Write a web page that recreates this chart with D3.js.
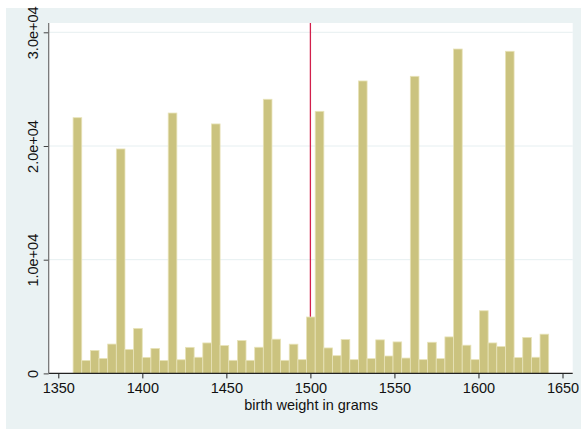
<!DOCTYPE html>
<html>
<head>
<meta charset="utf-8">
<script src="https://cdn.jsdelivr.net/npm/d3@7"></script>
<style>
  body { margin: 0; background: #fff; }
  svg { display: block; font-family: "Liberation Sans", Arial, sans-serif; }
</style>
</head>
<body>
<div id="chart"></div>
<script>
// histogram of birth weight, bins
const binStart = 1358.8;
const binWidth = 5.145;
const counts = [
  22490, 1140, 2020, 1320, 2580, 19740, 2110, 3960, 1410, 2200,
  1140, 22900, 1200, 2290, 1420, 2680, 21940, 2450, 1150, 2890,
  1150, 2300, 24110, 3010, 1150, 2570, 1210, 4960, 23050, 2240,
  1560, 2980, 1210, 25720, 1300, 2950, 1530, 2770, 1350, 26130,
  1210, 2740, 1300, 3210, 28530, 2480, 1210, 5510, 2680, 2360,
  28330, 1390, 3160, 1420, 3450
];
const xTicks = [1350, 1400, 1450, 1500, 1550, 1600, 1650];
const yTicks = [0, 10000, 20000, 30000];
const yTickLabels = ['0', '1.0e+04', '2.0e+04', '3.0e+04'];
const refLine = 1500;
const xTitle = 'birth weight in grams';

const width = 581, height = 429;
const plot = { left: 48.7, right: 572.7, top: 23, bottom: 373.4 };
const font = '"Liberation Sans", Arial, sans-serif';
const fontSize = 14.5;

const svg = d3.select('#chart').append('svg')
  .attr('width', width)
  .attr('height', height);

// graph region + plot region
svg.append('rect')
  .attr('x', 6).attr('y', 8)
  .attr('width', width - 6).attr('height', height - 8)
  .attr('fill', '#eaf2f3');
svg.append('rect')
  .attr('x', plot.left).attr('y', plot.top)
  .attr('width', plot.right - plot.left).attr('height', plot.bottom - plot.top)
  .attr('fill', '#ffffff');

const x = d3.scaleLinear().domain([1350, 1650]).range([58.3, 562.5]);
const y = d3.scaleLinear().domain([0, 30000]).range([plot.bottom, 32.3]);

// gridlines
svg.append('g')
  .selectAll('line')
  .data(yTicks.filter(d => d > 0))
  .join('line')
  .attr('x1', plot.left).attr('x2', plot.right)
  .attr('y1', d => y(d)).attr('y2', d => y(d))
  .attr('stroke', '#e6eff1')
  .attr('stroke-width', 1);

// reference line (behind bars)
svg.append('line')
  .attr('x1', x(refLine)).attr('x2', x(refLine))
  .attr('y1', plot.top).attr('y2', plot.bottom)
  .attr('stroke', '#d2204c')
  .attr('stroke-width', 1.3);

// bars
svg.append('g')
  .selectAll('rect')
  .data(counts)
  .join('rect')
  .attr('x', (d, i) => x(binStart + i * binWidth))
  .attr('width', (d, i) => x(binStart + (i + 1) * binWidth) - x(binStart + i * binWidth))
  .attr('y', d => y(d))
  .attr('height', d => y(0) - y(d))
  .attr('fill', '#cbc37f')
  .attr('stroke', '#e8e3b9')
  .attr('stroke-width', 0.8);

// x axis
const xAxis = svg.append('g')
  .attr('transform', `translate(0,${plot.bottom})`)
  .call(d3.axisBottom(x).tickValues(xTicks).tickFormat(d3.format('d')).tickSize(5).tickPadding(4.5).tickSizeOuter(0));
xAxis.select('.domain').remove();
xAxis.append('line')
  .attr('x1', plot.left).attr('x2', plot.right)
  .attr('stroke', '#222').attr('stroke-width', 1.2);
xAxis.selectAll('.tick line').attr('stroke', '#222');
xAxis.selectAll('.tick text')
  .attr('font-size', fontSize)
  .attr('fill', '#111')
  .attr('font-family', font);

// y axis
const yAxis = svg.append('g')
  .attr('transform', `translate(${plot.left},0)`)
  .call(d3.axisLeft(y).tickValues(yTicks).tickFormat((d, i) => yTickLabels[i]).tickSize(5).tickSizeOuter(0));
yAxis.select('.domain').remove();
yAxis.append('line')
  .attr('y1', plot.top).attr('y2', plot.bottom)
  .attr('stroke', '#6e6e6e').attr('stroke-width', 1.2);
yAxis.selectAll('.tick line').attr('stroke', '#444');
yAxis.selectAll('.tick text')
  .attr('font-size', fontSize)
  .attr('fill', '#111')
  .attr('font-family', font)
  .attr('x', null).attr('dy', null)
  .attr('text-anchor', 'middle')
  .attr('transform', 'translate(-11,0) rotate(-90)');

// axis title
svg.append('text')
  .attr('x', (plot.left + plot.right) / 2 + 0.5)
  .attr('y', 410)
  .attr('text-anchor', 'middle')
  .attr('font-size', fontSize)
  .attr('fill', '#111')
  .attr('font-family', font)
  .text(xTitle);
</script>
</body>
</html>
